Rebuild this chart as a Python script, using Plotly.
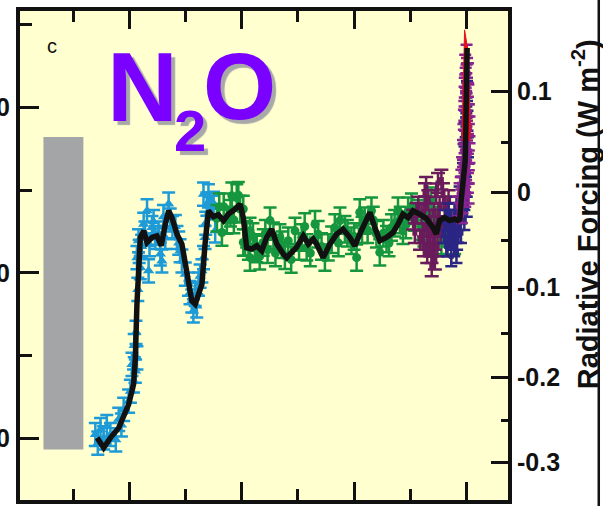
import plotly.graph_objects as go
import numpy as np

# ---------------- data (years before 2005, N2O ppb) ----------------
smooth_years = [16430, 16140, 15840, 15470, 15030, 14810, 14730, 14660, 14510, 14360, 14210, 13990,
                13770, 13580, 13400, 13250, 13100, 12880, 12660, 12440, 12220, 12070, 11920, 11770,
                11630, 11480, 11260, 11040, 10810, 10590, 10290, 10070, 9930, 9780, 9550, 9330,
                9110, 8890, 8670, 8440, 8150, 8000, 7780, 7560, 7260, 7040, 6820, 6670, 6380, 6080,
                5780, 5490, 5190, 4970, 4750, 4450, 4300, 4080, 3860, 3560, 3270, 3050, 2830, 2600,
                2380, 2090, 1790, 1490, 1350, 1200, 980, 750, 530, 400, 300, 240, 200, 130, 60, 30, 10, -25]
smooth_ppb = [200.1, 197.1, 200.1, 203.1, 210.2, 216.3, 224.3, 240.5, 260.7, 262.7, 259.2, 260.7,
              261.2, 258.2, 264.7, 268.8, 266.7, 261.7, 258.7, 250.6, 241.5, 240.5, 243.5, 246.6,
              258.7, 268.8, 267.0, 267.6, 265.8, 267.8, 269.3, 270.8, 266.7, 257.6, 257.2, 258.2,
              256.7, 260.7, 263.2, 258.7, 255.7, 254.6, 256.2, 257.7, 261.2, 258.7, 260.2, 258.7, 254.6, 258.7,
              261.7, 263.2, 260.7, 258.2, 261.7, 265.8, 268.3, 263.7, 259.7, 260.7, 262.2, 264.7, 267.8, 266.7,
              268.8, 267.8, 266.4, 263.7, 261.7, 265.8, 266.7, 265.8, 266.3, 265.8, 266.2, 272.0, 275.5, 276.5, 284.0, 295.0, 306.0, 318.0]

blue_years = [16510, 16140, 16280, 15840, 15470, 15250, 15030, 14950, 14810, 14730, 14880, 14660, 14700, 14620,
              14590, 14660, 14510, 14360, 14210, 14140, 13990, 13840, 13620, 13550, 13400, 13250, 13080,
              12880, 12740, 12660, 12510, 12370, 12220, 12070, 11920, 11770, 11700, 11630, 11550, 11480,
              11330, 11180, 11700, 11400,
              16400, 16000, 15600, 15350, 14780, 14560, 14450, 14300, 14100, 13920, 13700, 13480, 13180,
              12950, 12800, 12300, 12150, 12000, 11850, 11600, 11250]
blue_ppb = [201.1, 200.1, 202.6, 201.1, 205.7, 208.7, 211.2, 214.2, 217.3, 220.3, 222.3, 224.3, 232.0, 245.0,
            259.7, 254.6, 251.6, 264.7, 268.8, 250.6, 263.7, 260.7, 255.7, 253.6, 260.7, 270.8, 263.7,
            260.7, 256.7, 253.6, 249.6, 246.6, 241.5, 243.5, 246.6, 250.6, 254.6, 260.7, 270.8, 273.3,
            269.8, 262.7, 273.8, 270.8,
            198.5, 203.5, 199.5, 204.0, 228.0, 256.5, 258.0, 262.0, 258.5, 265.5, 262.0, 267.0, 266.0,
            264.0, 259.0, 244.0, 238.5, 240.0, 249.0, 265.0, 271.0]

green_years = [11000, 10500, 10440, 10660, 10880, 10070, 9850, 9630, 9330, 9780, 10220,
               9930, 9930, 9630, 9410, 9040, 8740, 8590, 8300, 8080, 7930, 7630, 7330, 7110, 6740, 6600,
               6300, 6150, 5860, 5630, 5410, 5120, 4890, 4750, 4530, 4230, 4010, 3860, 3560, 3340, 3050,
               2830, 2600, 2310, 2000, 1570, 1120, 530,
               11100, 10800, 10350, 10150, 9700, 9500, 9200, 8950, 8850, 8500, 8200, 7800, 7450, 7200,
               6950, 6450, 6000, 5700, 5300, 5000, 4650, 4400, 4150, 3700, 3450, 3200, 2950, 2700, 2450,
               2150, 1900, 1700, 1350, 850]
green_ppb = [270.0, 268.0, 273.3, 265.8, 262.2, 269.3, 259.2, 254.6, 257.2, 261.7, 272.8,
             269.3, 259.2, 262.7, 257.7, 259.2, 265.8, 261.2, 260.7, 255.2, 259.7, 262.7, 260.7, 257.7, 264.7, 261.7,
             254.6, 257.7, 263.7, 265.8, 263.2, 259.7, 254.6, 268.3, 265.8, 268.8, 261.7, 256.2, 260.2, 263.7, 268.8,
             262.7, 268.8, 266.7, 264.0, 271.8, 259.7, 259.7,
             266.5, 270.0, 266.0, 273.5, 258.0, 261.0, 255.0, 262.0, 257.0, 256.0, 258.5, 254.0, 258.0, 264.0,
             256.0, 258.0, 260.0, 259.0, 262.0, 261.0, 263.0, 263.0, 266.0, 262.0, 259.0, 265.0, 266.0, 264.5, 270.0,
             268.0, 262.0, 268.0, 266.0, 262.0]

maroon_years = [1850, 1850, 1780, 1710, 1560, 1410, 1270, 1120, 1270, 1410, 2220, 2370, 2070, 1630, 1050, 970,
                2300, 2150, 2000, 1950, 1900, 1800, 1700, 1650, 1600, 1500, 1450, 1350, 1300, 1200, 1150,
                1000, 900, 800, 1750, 1550]
maroon_ppb = [274.1, 270.1, 264.0, 260.0, 256.0, 254.0, 277.2, 278.2, 266.1, 262.1, 268.1, 266.1, 260.0, 258.0, 274.1, 270.1,
              262.0, 270.0, 268.0, 262.0, 258.0, 276.0, 272.0, 266.0, 262.0, 258.0, 268.0, 274.0, 258.0, 270.0, 262.0,
              264.0, 268.0, 272.0, 256.0, 252.0]

navy_years = [830, 680, 530, 380, 900, 310, 230, 160, 90, 90, 10, 10, -30, 680, 450,
              1000, 950, 850, 800, 750, 700, 600, 550, 500, 450, 420, 350, 280, 250, 200, 150, 120, 60,
              40, 20, 0, -20, -40, -60, -80, 30, -10, 100]
navy_ppb = [264.0, 260.0, 268.1, 262.1, 258.0, 273.1, 276.1, 280.2, 285.2, 292.3, 297.3, 301.3, 310.4, 255.0, 256.0,
            262.0, 266.0, 258.0, 268.0, 263.0, 266.0, 262.0, 258.0, 264.0, 270.0, 260.0, 266.0, 268.0, 262.0,
            270.0, 274.0, 278.0, 282.0, 288.0, 294.0, 300.0, 305.0, 296.0, 288.0, 280.0, 276.0, 270.0, 266.0]

magenta_years = [-60, 10, 90, -60, 120, 10, 160, 90, 230, 310, 380, -130, -130, -60, 210, 60,
                 0, -20, 40, 80, -80, 20, 100, -100, 60, -20, 140, 40, -60, 100, -100, 200, 20, -30,
                 160, 260, -90, 60, 180]
magenta_ppb = [310.4, 307.4, 303.3, 300.3, 296.3, 290.2, 287.2, 283.2, 278.2, 274.1, 270.1, 294.3, 286.2, 277.2, 268.1, 313.0,
               316.0, 312.0, 309.0, 306.0, 304.0, 302.0, 299.0, 298.0, 296.0, 293.0, 292.0, 290.0, 289.0, 286.0,
               284.0, 282.0, 281.0, 280.0, 279.0, 276.0, 274.0, 273.0, 271.0]

red_years = [200, 89, -40, -160, -150]
red_ppb = [290.0, 323.5, 318.0, 295.0, 290.0]

# natural range bar (years, ppb)
range_bar_years = [18817, 17042]
range_bar_ppb = [196.6, 291.1]

left_ticks = [200, 250, 300]
left_minor = [225, 275, 325]
x_major = [0, 5000, 10000, 15000]
x_minor = [2500, 7500, 12500, 17500]
rf_ticks = [0.1, 0, -0.1, -0.2, -0.3]
rf_minor = [0.05, -0.05, -0.15, -0.25, -0.35]
rf_ticktext = ["0.1", "0", "-0.1", "-0.2", "-0.3"]

# forcing -> concentration mapping for the right-hand scale
N0, A = 274.4, 0.1117
def rf_to_ppb(f):
    return (np.sqrt(N0) + f / A) ** 2

FONT = "Liberation Sans, Arial, sans-serif"
INK = "#111111"

fig = go.Figure()

def err_series(xs, ys, color, symbol, size, err, width, name):
    fig.add_trace(go.Scatter(
        x=xs, y=ys, mode="markers", name=name,
        marker=dict(symbol=symbol, size=size, color=color, line=dict(width=0)),
        error_y=dict(type="constant", value=err, color=color, thickness=2.5, width=width),
        hoverinfo="skip"))

err_series(blue_years, blue_ppb, "#1E9BD7", "triangle-up", 10, 3.5, 6.5, "blue")
err_series(green_years, green_ppb, "#15963F", "circle", 9, 4.0, 6.5, "green")
err_series(maroon_years, maroon_ppb, "#6A1B5B", "square", 5, 3.0, 7, "maroon")
err_series(navy_years, navy_ppb, "#2B2584", "square", 5, 3.0, 6, "navy")
err_series(magenta_years, magenta_ppb, "#8A2490", "square", 5, 3.0, 6, "magenta")

fig.add_trace(go.Scatter(x=red_years, y=red_ppb, mode="lines", fill="toself",
                         fillcolor="#E8101A", line=dict(color="#E8101A", width=1), hoverinfo="skip"))

fig.add_trace(go.Scatter(x=smooth_years, y=smooth_ppb, mode="lines",
                         line=dict(color=INK, width=5.5), hoverinfo="skip"))

# dummy trace for right axis
fig.add_trace(go.Scatter(x=[None], y=[None], yaxis="y2", showlegend=False))

fig.add_shape(type="rect", xref="x", yref="y", layer="below",
              x0=range_bar_years[0], x1=range_bar_years[1],
              y0=range_bar_ppb[0], y1=range_bar_ppb[1],
              fillcolor="#A3A5A7", line=dict(width=0))

# neighbouring panel edge at far right
fig.add_shape(type="line", xref="paper", yref="paper", x0=1.186, x1=1.186, y0=-0.03, y1=1.03,
              line=dict(color=INK, width=2.5))

xr = [19860, -1842]
yr = [181.3, 329.2]

fig.update_layout(
    width=603, height=506,
    margin=dict(l=19.5, r=94.5, t=11, b=5.5, pad=0),
    paper_bgcolor="white", plot_bgcolor="#FFFFD0",
    showlegend=False, template="none",
    xaxis=dict(range=xr, showgrid=False, zeroline=False, showline=True, linewidth=4,
               linecolor=INK, mirror="ticks", ticks="inside", ticklen=18, tickwidth=3,
               tickcolor=INK, tickvals=x_major, showticklabels=False,
               minor=dict(tickvals=x_minor, ticks="inside", ticklen=11,
                          tickwidth=3, tickcolor=INK), automargin=False),
    yaxis=dict(range=yr, showgrid=False, zeroline=False, showline=True, linewidth=4,
               linecolor=INK, mirror=True, ticks="inside", ticklen=19, tickwidth=3,
               tickcolor=INK, tickvals=left_ticks, ticktext=[str(v) for v in left_ticks],
               tickfont=dict(family=FONT, size=25, color=INK, weight="bold"),
               ticklabelstandoff=1,
               minor=dict(tickvals=left_minor, ticks="inside", ticklen=12, tickwidth=3,
                          tickcolor=INK), automargin=False),
    yaxis2=dict(range=yr, overlaying="y", side="right", showgrid=False, zeroline=False,
                showline=True, linewidth=4, linecolor=INK, ticks="inside", ticklen=17,
                tickwidth=3, tickcolor=INK,
                tickvals=[rf_to_ppb(f) for f in rf_ticks], ticktext=rf_ticktext,
                tickfont=dict(family=FONT, size=25, color=INK, weight="bold"),
                minor=dict(tickvals=[rf_to_ppb(f) for f in rf_minor], ticks="inside", ticklen=7,
                           tickwidth=3, tickcolor=INK), automargin=False),
)

fig.add_annotation(text="c", xref="paper", yref="paper", x=0.0665, y=0.9285,
                   showarrow=False, xanchor="center", yanchor="middle",
                   font=dict(family=FONT, size=20, color=INK))

purple_font = dict(family=FONT, color="#7A00FF", weight="bold", shadow="4px 4px 1px #A8A8A8")
fig.add_annotation(text="N", xref="paper", yref="paper", x=0.2505, y=0.8437,
                   showarrow=False, xanchor="center", yanchor="middle",
                   font=dict(size=98, **purple_font))
fig.add_annotation(text="2", xref="paper", yref="paper", x=0.3476, y=0.7549,
                   showarrow=False, xanchor="center", yanchor="middle",
                   font=dict(size=58, **purple_font))
fig.add_annotation(text="O", xref="paper", yref="paper", x=0.4500, y=0.8458,
                   showarrow=False, xanchor="center", yanchor="middle",
                   font=dict(size=94, **purple_font))

fig.add_annotation(text="Radiative Forcing (W m<sup>-2</sup>)", xref="paper", yref="paper",
                   x=1.1585, y=0.585, textangle=-90, showarrow=False,
                   xanchor="center", yanchor="middle",
                   font=dict(family=FONT, size=29, color=INK, weight="bold"))

# remove the default 8px page margin so the figure fills the window exactly
fig.write_html("out.html", config={"displayModeBar": False},
               post_script="document.body.style.margin='0';document.body.style.overflow='hidden';")
